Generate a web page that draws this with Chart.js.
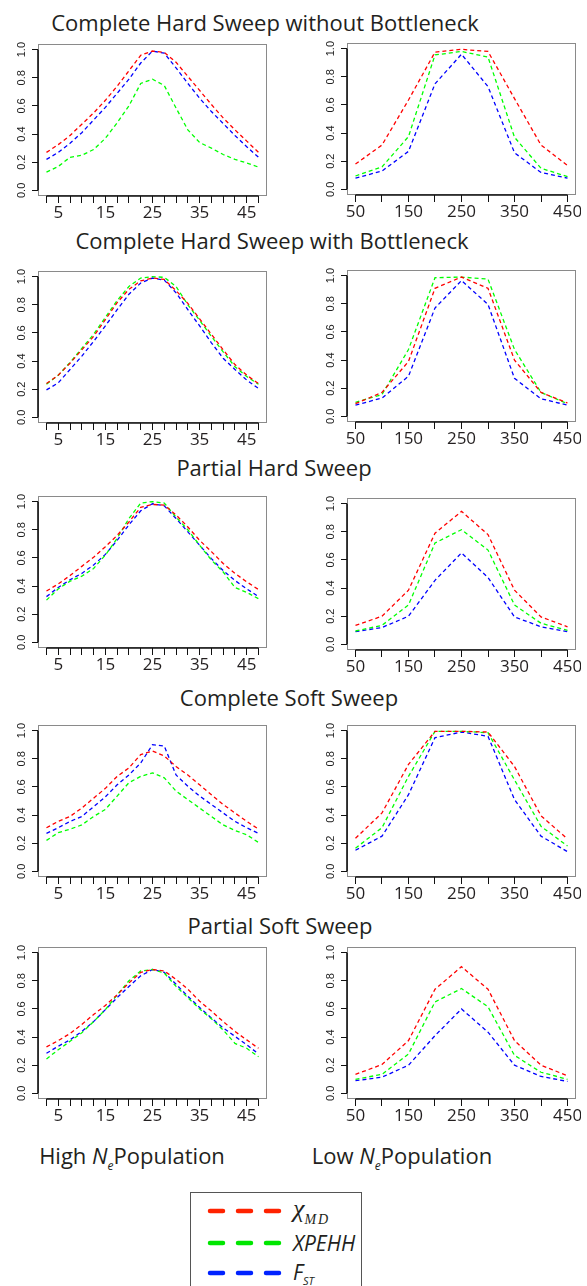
<!DOCTYPE html>
<html>
<head>
<meta charset="utf-8">
<script src="https://cdn.jsdelivr.net/npm/chart.js@4.4.0/dist/chart.umd.min.js"></script>
<style>
  body { margin: 0; background: #fff; }
  #page { position: relative; width: 587px; height: 1286px; overflow: hidden; background: #fff; }
  .title, .foot { position: absolute; transform: translate(-50%, -50%); white-space: nowrap;
    font-family: "Open Sans", sans-serif; font-size: 22px; color: #231f20; }
  canvas { position: absolute; }
  #legend { position: absolute; left: 190px; top: 1192px; width: 170px; height: 110px;
    border: 1px solid #555; background: #fff; }
  .lab { position: absolute; left: 102px; transform: translateY(-50%); white-space: nowrap; color: #231f20; }
</style>
</head>
<body>
<div id="page">
  <div class="title" style="left:265px; top:22px">Complete Hard Sweep without Bottleneck</div>
  <div class="title" style="left:272px; top:240px">Complete Hard Sweep with Bottleneck</div>
  <div class="title" style="left:274px; top:467px">Partial Hard Sweep</div>
  <div class="title" style="left:289px; top:697px">Complete Soft Sweep</div>
  <div class="title" style="left:280px; top:925px">Partial Soft Sweep</div>

  <div class="foot" style="left:132px; top:1157px">High <i>N</i><sub style="font-size:12px"><i>e</i></sub>Population</div>
  <div class="foot" style="left:402px; top:1157px">Low <i>N</i><sub style="font-size:12px"><i>e</i></sub>Population</div>

  <div id="legend">
    <svg width="170" height="110" style="position:absolute; left:0; top:0">
      <line x1="19" y1="18" x2="88" y2="18" stroke="#ff2200" stroke-width="4.5" stroke-dasharray="13 15" stroke-linecap="round"/>
      <line x1="19" y1="50" x2="88" y2="50" stroke="#00e600" stroke-width="4.5" stroke-dasharray="13 15" stroke-linecap="round"/>
      <line x1="19" y1="80" x2="88" y2="80" stroke="#0022ff" stroke-width="4.5" stroke-dasharray="13 15" stroke-linecap="round"/>
    </svg>
    <div class="lab" style="top:18px; font-family:'Liberation Serif', serif; font-size:26px"><i>χ</i><sub style="font-size:14px; font-style:italic; letter-spacing:2px">MD</sub></div>
    <div class="lab" style="top:50px; font-family:'Open Sans', sans-serif; font-size:21px"><i>XPEHH</i></div>
    <div class="lab" style="top:80px; font-family:'Open Sans', sans-serif; font-size:21px"><i>F</i><sub style="font-size:11px"><i>ST</i></sub></div>
  </div>
</div>

<script>
// x positions and tick labels
const highNeX = [2.5, 5, 7.5, 10, 12.5, 15, 17.5, 20, 22.5, 25, 27.5, 30, 32.5, 35, 37.5, 40, 42.5, 45, 47.5];
const highNeLabels = [5, 15, 25, 35, 45];
const lowNeX = [50, 100, 150, 200, 250, 300, 350, 400, 450];
const lowNeLabels = [50, 150, 250, 350, 450];
const yTicks = [0, 0.2, 0.4, 0.6, 0.8, 1.0];

// Complete hard sweep without bottleneck
const hardHighXmd = [0.27, 0.325, 0.39, 0.47, 0.55, 0.64, 0.74, 0.85, 0.96, 0.99, 0.98, 0.91, 0.81, 0.71, 0.61, 0.515, 0.43, 0.35, 0.27];
const hardHighXpehh = [0.13, 0.17, 0.235, 0.25, 0.29, 0.37, 0.48, 0.60, 0.76, 0.79, 0.745, 0.585, 0.43, 0.34, 0.30, 0.255, 0.22, 0.195, 0.165];
const hardHighFst = [0.22, 0.27, 0.335, 0.41, 0.50, 0.59, 0.69, 0.79, 0.905, 0.99, 0.975, 0.87, 0.76, 0.655, 0.56, 0.475, 0.39, 0.31, 0.235];
const hardLowXmd = [0.18, 0.315, 0.635, 0.975, 0.995, 0.98, 0.645, 0.315, 0.17];
const hardLowXpehh = [0.095, 0.16, 0.375, 0.955, 0.98, 0.94, 0.37, 0.15, 0.09];
const hardLowFst = [0.08, 0.13, 0.27, 0.75, 0.96, 0.73, 0.26, 0.12, 0.08];

// Complete hard sweep with bottleneck
const bneckHighXmd = [0.24, 0.30, 0.385, 0.48, 0.575, 0.695, 0.815, 0.91, 0.97, 0.99, 0.98, 0.90, 0.81, 0.70, 0.59, 0.48, 0.375, 0.30, 0.24];
const bneckHighXpehh = [0.235, 0.30, 0.39, 0.49, 0.59, 0.71, 0.83, 0.93, 0.99, 1.0, 0.995, 0.93, 0.80, 0.69, 0.575, 0.465, 0.36, 0.29, 0.235];
const bneckHighFst = [0.195, 0.245, 0.34, 0.435, 0.54, 0.65, 0.765, 0.875, 0.955, 0.99, 0.975, 0.885, 0.765, 0.65, 0.53, 0.42, 0.34, 0.265, 0.205];
const bneckLowXmd = [0.09, 0.17, 0.39, 0.91, 0.99, 0.91, 0.40, 0.17, 0.095];
const bneckLowXpehh = [0.10, 0.155, 0.475, 0.985, 0.99, 0.975, 0.475, 0.17, 0.09];
const bneckLowFst = [0.08, 0.13, 0.285, 0.77, 0.965, 0.795, 0.27, 0.125, 0.08];

// Partial hard sweep
const partHardHighXmd = [0.365, 0.415, 0.475, 0.54, 0.605, 0.68, 0.76, 0.855, 0.96, 0.98, 0.975, 0.905, 0.82, 0.725, 0.645, 0.56, 0.49, 0.43, 0.375];
const partHardHighXpehh = [0.30, 0.38, 0.435, 0.47, 0.525, 0.62, 0.74, 0.88, 0.99, 1.0, 0.99, 0.89, 0.80, 0.69, 0.585, 0.50, 0.39, 0.355, 0.31];
const partHardHighFst = [0.325, 0.39, 0.445, 0.49, 0.55, 0.625, 0.725, 0.835, 0.935, 0.985, 0.97, 0.88, 0.785, 0.69, 0.595, 0.51, 0.44, 0.38, 0.325];
const partHardLowXmd = [0.135, 0.20, 0.385, 0.79, 0.945, 0.78, 0.385, 0.195, 0.125];
const partHardLowXpehh = [0.095, 0.135, 0.28, 0.72, 0.815, 0.67, 0.28, 0.15, 0.10];
const partHardLowFst = [0.09, 0.12, 0.20, 0.455, 0.65, 0.475, 0.195, 0.125, 0.09];

// Complete soft sweep
const softHighXmd = [0.31, 0.355, 0.39, 0.45, 0.52, 0.59, 0.675, 0.735, 0.83, 0.855, 0.82, 0.745, 0.685, 0.615, 0.545, 0.475, 0.415, 0.355, 0.30];
const softHighXpehh = [0.22, 0.275, 0.30, 0.33, 0.39, 0.44, 0.535, 0.63, 0.675, 0.70, 0.665, 0.57, 0.51, 0.45, 0.39, 0.33, 0.29, 0.26, 0.205];
const softHighFst = [0.27, 0.31, 0.355, 0.39, 0.46, 0.53, 0.615, 0.685, 0.77, 0.90, 0.89, 0.685, 0.605, 0.535, 0.475, 0.415, 0.355, 0.31, 0.27];
const softLowXmd = [0.235, 0.415, 0.76, 0.995, 0.995, 0.99, 0.745, 0.395, 0.23];
const softLowXpehh = [0.165, 0.31, 0.675, 0.995, 0.995, 0.985, 0.65, 0.32, 0.18];
const softLowFst = [0.15, 0.25, 0.545, 0.95, 0.99, 0.96, 0.51, 0.25, 0.14];

// Partial soft sweep
const partSoftHighXmd = [0.33, 0.375, 0.425, 0.49, 0.56, 0.625, 0.70, 0.785, 0.86, 0.88, 0.87, 0.81, 0.74, 0.655, 0.585, 0.51, 0.44, 0.38, 0.32];
const partSoftHighXpehh = [0.245, 0.31, 0.37, 0.43, 0.51, 0.595, 0.70, 0.80, 0.87, 0.88, 0.855, 0.76, 0.68, 0.60, 0.53, 0.45, 0.355, 0.32, 0.26];
const partSoftHighFst = [0.285, 0.335, 0.38, 0.44, 0.51, 0.595, 0.68, 0.76, 0.835, 0.88, 0.86, 0.775, 0.69, 0.61, 0.535, 0.465, 0.405, 0.345, 0.28];
const partSoftLowXmd = [0.135, 0.205, 0.375, 0.74, 0.90, 0.74, 0.375, 0.20, 0.125];
const partSoftLowXpehh = [0.10, 0.135, 0.28, 0.65, 0.745, 0.615, 0.27, 0.15, 0.10];
const partSoftLowFst = [0.09, 0.115, 0.20, 0.41, 0.60, 0.435, 0.20, 0.12, 0.085];

// R-style box plus axis lines spanning first..last tick
const rBox = {
  id: "rBox",
  afterDraw(chart) {
    const { ctx, chartArea: a, scales: { x, y } } = chart;
    ctx.save();
    ctx.strokeStyle = "#8a8a8a";
    ctx.lineWidth = 1;
    ctx.strokeRect(a.left + 0.5, a.top + 0.5, a.width - 1, a.height - 1);
    ctx.strokeStyle = "#111";
    ctx.lineWidth = 1.6;
    ctx.beginPath();
    ctx.moveTo(a.left, y.getPixelForValue(yTicks[0]));
    ctx.lineTo(a.left, y.getPixelForValue(yTicks[yTicks.length - 1]));
    const xt = x.ticks;
    ctx.moveTo(x.getPixelForValue(xt[0].value), a.bottom);
    ctx.lineTo(x.getPixelForValue(xt[xt.length - 1].value), a.bottom);
    ctx.stroke();
    ctx.restore();
  },
};

function panel(left, top, width, yAxisW, xs, xLabels, xmd, xpehh, fst) {
  const canvas = document.createElement("canvas");
  canvas.width = width;
  canvas.height = 188;
  canvas.style.left = left + "px";
  canvas.style.top = (top - 6) + "px";
  document.getElementById("page").appendChild(canvas);

  const pad = (xs[xs.length - 1] - xs[0]) * 0.04;
  const line = (data, color) => ({
    data: xs.map((v, i) => ({ x: v, y: data[i] })),
    borderColor: color,
    borderWidth: 1.3,
    borderDash: [4, 3],
    pointRadius: 0,
    tension: 0,
    fill: false,
  });

  new Chart(canvas, {
    type: "line",
    data: {
      datasets: [
        line(xmd, "#ff0000"),
        line(xpehh, "#00ff00"),
        line(fst, "#0000ff"),
      ],
    },
    options: {
      responsive: false,
      animation: false,
      layout: { padding: { top: 6, right: 5, left: 0, bottom: 0 } },
      plugins: { legend: { display: false }, tooltip: { enabled: false } },
      scales: {
        x: {
          type: "linear",
          min: xs[0] - pad,
          max: xs[xs.length - 1] + pad,
          afterBuildTicks: (s) => { s.ticks = xs.map((v) => ({ value: v })); },
          afterFit: (s) => { s.height = 30; s.paddingLeft = 0; s.paddingRight = 0; },
          ticks: {
            autoSkip: false, maxRotation: 0, minRotation: 0, padding: 0,
            callback: (v) => (xLabels.includes(v) ? String(v) : ""),
            font: { family: "Open Sans", size: 17 },
            color: "#231f20",
          },
          grid: { drawOnChartArea: false, drawTicks: true, tickLength: 7, color: "#111", tickColor: "#111" },
          border: { display: false },
        },
        y: {
          min: -0.04,
          max: 1.04,
          afterBuildTicks: (s) => { s.ticks = yTicks.map((v) => ({ value: v })); },
          afterFit: (s) => { s.width = yAxisW; s.paddingTop = 0; s.paddingBottom = 0; },
          ticks: {
            autoSkip: false, minRotation: 90, maxRotation: 90, crossAlign: "center", padding: 2,
            callback: (v) => v.toFixed(1),
            font: { family: "Liberation Sans", size: 11 },
            color: "#222",
          },
          grid: { drawOnChartArea: false, drawTicks: true, tickLength: 6, color: "#111", tickColor: "#111" },
          border: { display: false },
        },
      },
    },
    plugins: [rBox],
  });
}

const leftTops = [44, 271, 496, 725, 947];
const rightTops = [43, 270, 498, 725, 947];
const rows = [
  [hardHighXmd, hardHighXpehh, hardHighFst, hardLowXmd, hardLowXpehh, hardLowFst],
  [bneckHighXmd, bneckHighXpehh, bneckHighFst, bneckLowXmd, bneckLowXpehh, bneckLowFst],
  [partHardHighXmd, partHardHighXpehh, partHardHighFst, partHardLowXmd, partHardLowXpehh, partHardLowFst],
  [softHighXmd, softHighXpehh, softHighFst, softLowXmd, softLowXpehh, softLowFst],
  [partSoftHighXmd, partSoftHighXpehh, partSoftHighFst, partSoftLowXmd, partSoftLowXpehh, partSoftLowFst],
];

rows.forEach((r, i) => {
  panel(0, leftTops[i], 272, 38, highNeX, highNeLabels, r[0], r[1], r[2]);
  panel(300, rightTops[i], 281, 47, lowNeX, lowNeLabels, r[3], r[4], r[5]);
});
</script>
</body>
</html>
